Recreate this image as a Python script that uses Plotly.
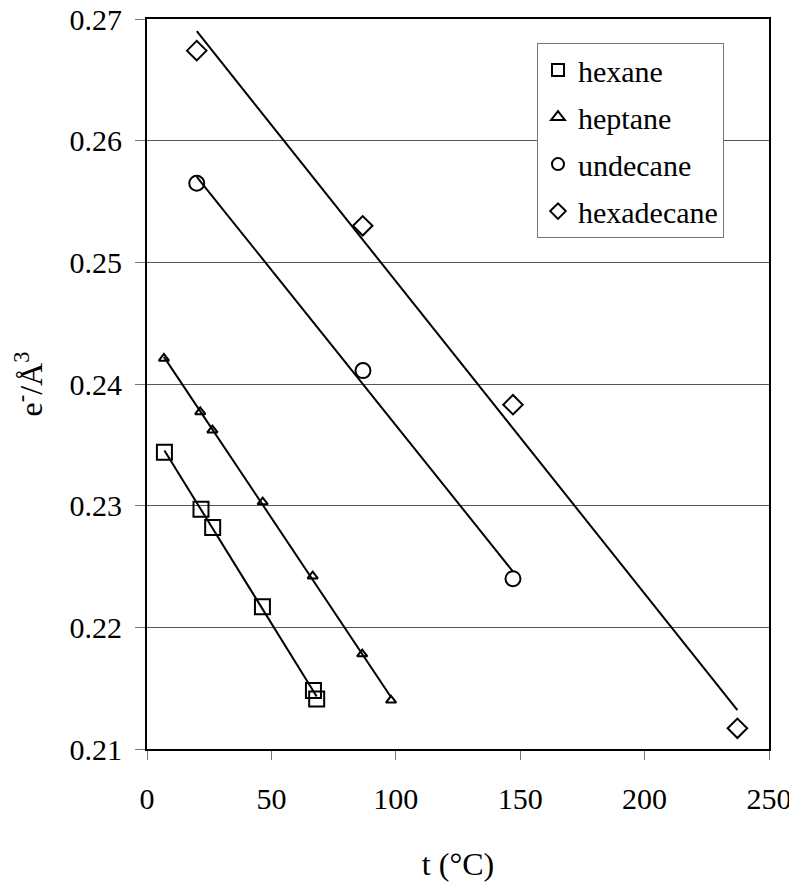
import numpy as np
import plotly.graph_objects as go

# Data
hexane_t = [7.0, 21.7, 26.4, 46.4, 66.9, 68.2]
hexane_rho = [0.2344, 0.2297, 0.2282, 0.2217, 0.2148, 0.2141]

heptane_t = [6.8, 21.4, 26.3, 46.5, 66.6, 86.5, 98.1]
heptane_rho = [0.2421, 0.2377, 0.2362, 0.2303, 0.2242, 0.2178, 0.2140]

undecane_t = [20.0, 86.8, 147.1]
undecane_rho = [0.2565, 0.2411, 0.2240]

hexadecane_t = [20.0, 86.7, 147.1, 237.3]
hexadecane_rho = [0.2674, 0.2530, 0.2383, 0.2117]

series_names = ["hexane", "heptane", "undecane", "hexadecane"]
x_ticks = [0, 50, 100, 150, 200, 250]
y_ticks = [0.21, 0.22, 0.23, 0.24, 0.25, 0.26, 0.27]

series = [
    (series_names[0], hexane_t, hexane_rho, "square-open", 15),
    (series_names[1], heptane_t, heptane_rho, "triangle-up-open", 9),
    (series_names[2], undecane_t, undecane_rho, "circle-open", 15),
    (series_names[3], hexadecane_t, hexadecane_rho, "diamond-open", 15),
]

FONT = "Liberation Serif"

fig = go.Figure()

# linear trendlines (least squares fits of each series)
for name, xs, ys, sym, sz in series:
    k, b = np.polyfit(xs, ys, 1)
    xf = np.array([min(xs), max(xs)])
    fig.add_trace(go.Scatter(x=xf, y=k * xf + b, mode="lines",
                             line=dict(color="black", width=2),
                             showlegend=False, hoverinfo="skip"))

for name, xs, ys, sym, sz in series:
    fig.add_trace(go.Scatter(x=xs, y=ys, mode="markers", name=name, legendgroup=name,
                             marker=dict(symbol=sym, size=sz, color="black",
                                         line=dict(color="black", width=2))))

# page body adds an 8px offset, so the figure is 8px smaller and shifted
fig.update_layout(
    width=789, height=876,
    margin=dict(l=139, r=28, t=11, b=135, autoexpand=False),
    paper_bgcolor="white", plot_bgcolor="white",
    font=dict(family=FONT, color="black", size=30),
    legend=dict(x=0.627, y=0.967, xanchor="left", yanchor="top",
                bgcolor="white", bordercolor="#777777", borderwidth=1,
                font=dict(family=FONT, size=30), itemwidth=30,
                tracegroupgap=5, itemsizing="constant"),
    xaxis=dict(range=[0, 250], tickvals=x_ticks, showgrid=False, zeroline=False,
               automargin=False, ticklabeloverflow="allow",
               showline=True, linecolor="black", linewidth=2, mirror=True,
               ticks="outside", ticklen=9, tickcolor="#777777", tickwidth=1,
               ticklabelstandoff=13,
               tickfont=dict(family=FONT, size=30),
               title=dict(text="t (°C)", font=dict(family=FONT, size=32), standoff=39)),
    yaxis=dict(range=[0.21, 0.27], tickvals=y_ticks, tickformat=".2f",
               automargin=False, ticklabeloverflow="allow",
               showgrid=True, gridcolor="#555555", gridwidth=1, zeroline=False,
               showline=True, linecolor="black", linewidth=2, mirror=True,
               ticks="outside", ticklen=10, tickcolor="#777777", tickwidth=1,
               ticklabelstandoff=7,
               tickfont=dict(family=FONT, size=30),
               title=dict(text="e<sup>-</sup>/Å<sup>3</sup>", font=dict(family=FONT, size=32),
                          standoff=17)),
)

fig.write_html("out.html")
